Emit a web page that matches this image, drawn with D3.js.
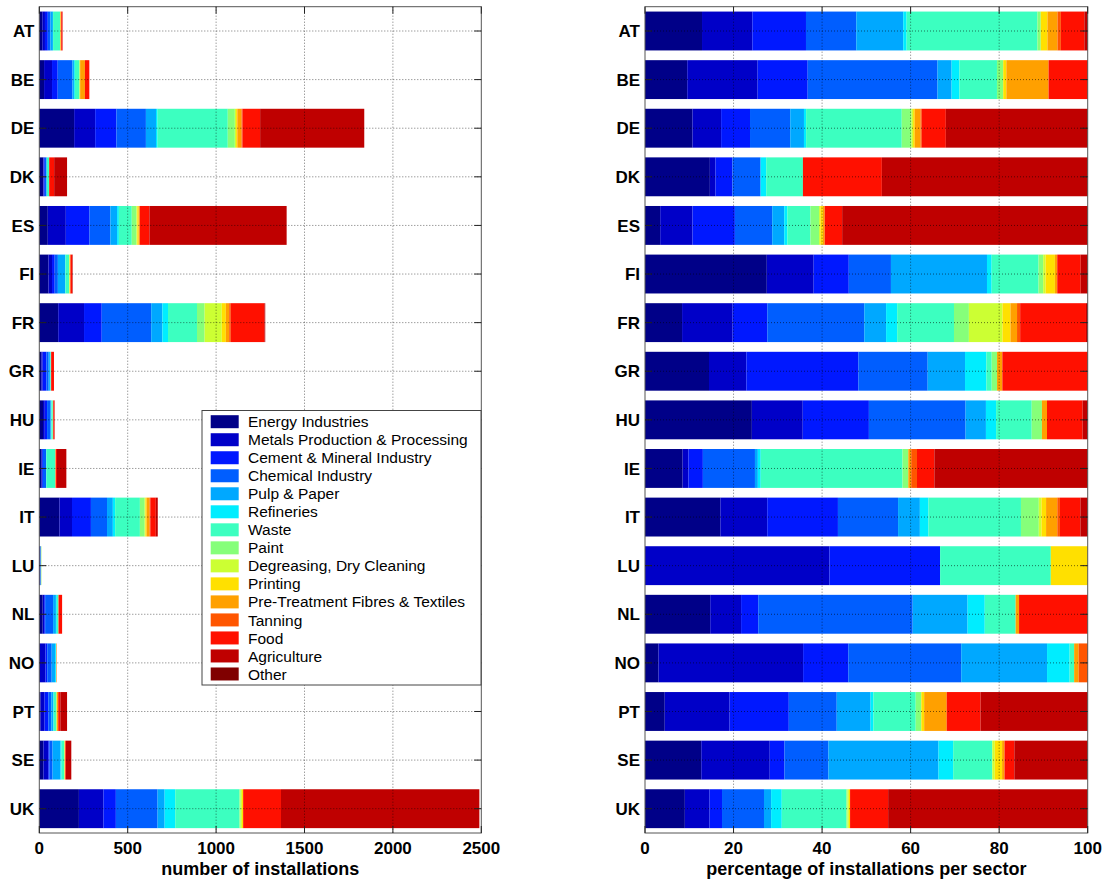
<!DOCTYPE html>
<html><head><meta charset="utf-8">
<script src="https://cdn.jsdelivr.net/npm/d3@7"></script>
<style>
body{margin:0;background:#fff;}
svg{display:block;font-family:"Liberation Sans",Arial,Helvetica,sans-serif;}
</style>
</head><body>
<svg id="chart" width="1106" height="881"></svg>
<script>
// ---- data ----
const countries = ["AT","BE","DE","DK","ES","FI","FR","GR","HU","IE","IT","LU","NL","NO","PT","SE","UK"];
const sectors = ["Energy Industries","Metals Production & Processing","Cement & Mineral Industry","Chemical Industry",
  "Pulp & Paper","Refineries","Waste","Paint","Degreasing, Dry Cleaning","Printing",
  "Pre-Treatment Fibres & Textiles","Tanning","Food","Agriculture","Other"];
const sectorColors = ["#000088","#0000C8","#0018FF","#005EFF","#00A8FF","#00EDFF","#3CFFC0","#86FF7A",
  "#CCFF33","#FFE000","#FFA000","#FF5600","#FF1000","#BF0000","#800000"];

const energy      = [17,27,197,23,48,52,107,12,21,13,114,0,19,3,7,23,224];
const metals      = [15,45,119,2,102,20,146,7,10,2,71,5,9,32,23,28,139];
const cement      = [16,32,120,6,134,15,100,21,13,5,107,3,5,10,21,6,70];
const chemical    = [15,83,167,10,118,18,280,13,19,18,91,0,45,25,17,18,236];
const pulp        = [14,9,57,0,38,41,63,7,4,1,33,0,16,19,12,45,40];
const refineries  = [1,5,9,2,10,2,32,4,2,1,13,0,5,5,1,6,60];
const waste       = [39,24,397,13,73,20,164,1,7,49,140,3,9,1,15,16,363];
const paint       = [1,4,40,0,27,2,43,1,2,2,27,0,0,0,2,0,7];
const degreasing  = [0,0,7,0,4,1,97,0,0,0,4,0,0,0,0,1,7];
const printing    = [2,2,7,0,8,4,23,0,0,0,7,1,0,0,1,3,7];
const pretreat    = [3,27,24,0,6,1,19,1,1,1,17,0,1,1,8,1,0];
const tanning     = [1,0,5,0,0,0,9,0,0,2,4,0,0,2,0,0,0];
const food        = [7,25,100,28,55,10,190,16,7,6,31,0,20,0,12,4,214];
const agriculture = [1,0,589,73,776,3,5,0,1,53,11,0,0,0,38,30,1122];
const other       = [0,0,0,0,0,0,0,0,0,0,0,0,0,0,0,0,0];

const countTicks = [0,500,1000,1500,2000,2500];
const pctTicks = [0,20,40,60,80,100];

// ---- build tables ----
const seriesValues = [energy,metals,cement,chemical,pulp,refineries,waste,paint,degreasing,printing,pretreat,tanning,food,agriculture,other];
const rowsCount = countries.map((c,i)=>{
  const o={country:c}; sectors.forEach((s,k)=>o[s]=seriesValues[k][i]); return o;
});
const rowsPct = rowsCount.map(r=>{
  const tot = d3.sum(sectors,s=>r[s]);
  const o={country:r.country}; sectors.forEach(s=>o[s]=tot?r[s]/tot*100:0); return o;
});
const color = d3.scaleOrdinal().domain(sectors).range(sectorColors);

const svg = d3.select("#chart");
const plotTop=6.7, plotBottom=833;
const y = d3.scaleBand().domain(countries).range([plotTop,plotBottom]).paddingInner(0.2).paddingOuter(0.1);

const panels = [
  {x0:39.3, x1:481.3, max:2500, ticks:countTicks, rows:rowsCount, label:"number of installations"},
  {x0:645, x1:1087.7, max:100, ticks:pctTicks, rows:rowsPct, label:"percentage of installations per sector"}
];

panels.forEach(p=>{
  const x = d3.scaleLinear().domain([0,p.max]).range([p.x0,p.x1]);
  const g = svg.append("g");
  const stack = d3.stack().keys(sectors)(p.rows);
  g.selectAll("g.layer").data(stack).join("g").attr("class","layer")
    .attr("fill",d=>color(d.key))
    .selectAll("rect").data(d=>d).join("rect")
      .attr("x",d=>x(d[0]))
      .attr("width",d=>Math.max(0,x(d[1])-x(d[0])))
      .attr("y",d=>y(d.data.country))
      .attr("height",y.bandwidth());

  // grid (on top, dotted)
  const grid = g.append("g").attr("stroke","#000").attr("stroke-opacity",0.55)
    .attr("stroke-width",1).attr("stroke-dasharray","1,2").attr("fill","none");
  p.ticks.forEach(t=>{
    if(t===0||t===p.max) return;
    grid.append("line").attr("x1",x(t)).attr("x2",x(t)).attr("y1",plotTop).attr("y2",plotBottom);
  });
  countries.forEach(c=>{
    const cy = y(c)+y.bandwidth()/2;
    grid.append("line").attr("x1",p.x0).attr("x2",p.x1).attr("y1",cy).attr("y2",cy);
  });

  // box
  g.append("rect").attr("x",p.x0).attr("y",plotTop).attr("width",p.x1-p.x0).attr("height",plotBottom-plotTop)
    .attr("fill","none").attr("stroke","#555").attr("stroke-width",1);

  // ticks
  const tk = g.append("g").attr("stroke","#222").attr("stroke-width",1);
  p.ticks.forEach(t=>{
    tk.append("line").attr("x1",x(t)).attr("x2",x(t)).attr("y1",plotBottom).attr("y2",plotBottom-7);
    tk.append("line").attr("x1",x(t)).attr("x2",x(t)).attr("y1",plotTop).attr("y2",plotTop+7);
  });
  countries.forEach(c=>{
    const cy = y(c)+y.bandwidth()/2;
    tk.append("line").attr("x1",p.x0).attr("x2",p.x0+7).attr("y1",cy).attr("y2",cy);
    tk.append("line").attr("x1",p.x1).attr("x2",p.x1-7).attr("y1",cy).attr("y2",cy);
  });

  // tick labels
  g.append("g").selectAll("text").data(p.ticks).join("text")
    .attr("x",d=>x(d)).attr("y",854).attr("text-anchor","middle")
    .attr("font-size",17).attr("font-weight","bold").attr("fill","#000").text(d=>d);
  g.append("g").selectAll("text").data(countries).join("text")
    .attr("x",p.x0-5).attr("y",d=>y(d)+y.bandwidth()/2).attr("dy","0.36em")
    .attr("text-anchor","end").attr("font-size",17).attr("font-weight","bold").attr("fill","#000").text(d=>d);
  g.append("text").attr("x",(p.x0+p.x1)/2).attr("y",875).attr("text-anchor","middle")
    .attr("font-size",18).attr("font-weight","bold").attr("fill","#000").text(p.label);
});

// legend
const lg = svg.append("g");
lg.append("rect").attr("x",202).attr("y",410.5).attr("width",279).attr("height",274.5)
  .attr("fill","#fff").attr("stroke","#444").attr("stroke-width",1);
sectors.forEach((s,i)=>{
  const cy = 421.7 + i*18.02;
  lg.append("rect").attr("x",210.7).attr("y",cy-6.5).attr("width",28).attr("height",13).attr("fill",color(s));
  lg.append("text").attr("x",248).attr("y",cy).attr("dy","0.36em").attr("font-size",15.5)
    .attr("fill","#000").text(s);
});
</script>
</body></html>
